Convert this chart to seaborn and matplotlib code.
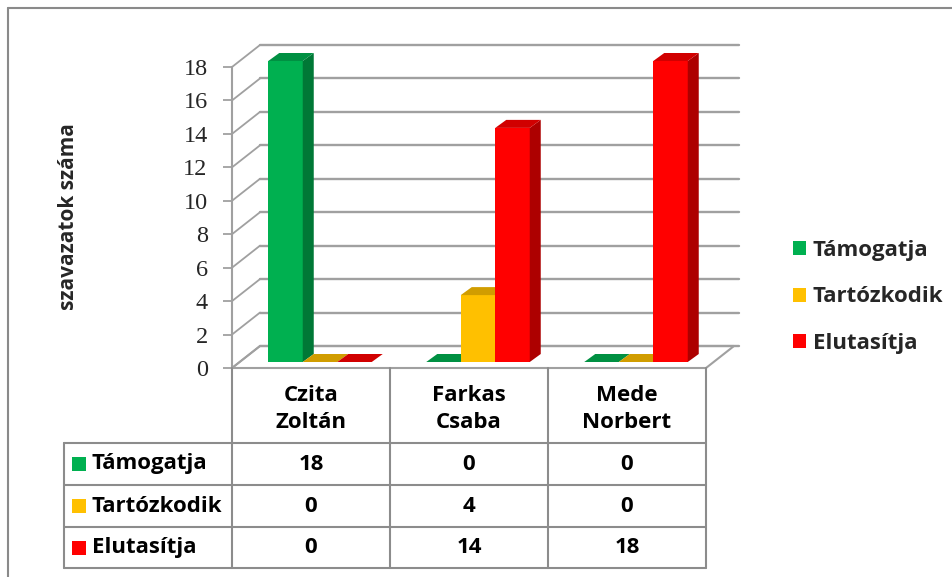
import numpy as np
import pandas as pd
import matplotlib
matplotlib.use("Agg")
import matplotlib.pyplot as plt
import seaborn as sns
from matplotlib import font_manager as fm
from matplotlib.patches import Polygon, Rectangle
from matplotlib.lines import Line2D
from matplotlib.transforms import IdentityTransform, ScaledTranslation
import matplotlib.colors as mcolors

# ---------------- data ----------------
candidates = ["Czita\nZoltán", "Farkas\nCsaba", "Mede\nNorbert"]
series_names = ["Támogatja", "Tartózkodik", "Elutasítja"]
tamogatja = [18, 0, 0]
tartozkodik = [0, 4, 0]
elutasitja = [0, 14, 18]
series_colors = ["#00B050", "#FFC000", "#FF0000"]
yticks = [0, 2, 4, 6, 8, 10, 12, 14, 16, 18]
ylabel_text = "szavazatok száma"

series_values = [tamogatja, tartozkodik, elutasitja]
df = pd.DataFrame({
    "candidate": [c for _ in series_names for c in candidates],
    "vote": [s for s in series_names for _ in candidates],
    "votes": [v for vals in series_values for v in vals],
})

# ---------------- style ----------------
W, H, DPI = 953, 577, 100
sns.set_theme(style="white")
avail = {f.name for f in fm.fontManager.ttflist}
SANS = "Open Sans" if "Open Sans" in avail else "DejaVu Sans"
SERIF = "Liberation Serif" if "Liberation Serif" in avail else "DejaVu Serif"
plt.rcParams["font.family"] = [SANS, "DejaVu Sans"]

GRID = "#A0A0A0"
TABLE = "#8C8C8C"

fig = plt.figure(figsize=(W / DPI, H / DPI), dpi=DPI)
fig.patch.set_facecolor("white")


def fx(px):
    return px / W


def fy(py):
    return 1 - py / H


AX_L, AX_R, AX_TOP, AX_BOT = 232, 706, 67, 368
ax = fig.add_axes([fx(AX_L), fy(AX_BOT), (AX_R - AX_L) / W, (AX_BOT - AX_TOP) / H])
ax.patch.set_alpha(0)

sns.barplot(data=df, x="candidate", y="votes", hue="vote", order=candidates,
            hue_order=series_names, palette=series_colors, width=0.655,
            saturation=1, linewidth=0, edgecolor="none", ax=ax)
ax.set_xlim(-0.5, 2.5)
ax.set_ylim(0, 18)

# axis styling
for s in ["top", "right", "bottom"]:
    ax.spines[s].set_visible(False)
ax.spines["left"].set_color(GRID)
ax.spines["left"].set_linewidth(1.5)
ax.spines["left"].set_zorder(2)
ax.set_xticks([])
ax.set_xlabel("")
ax.set_yticks(yticks)
ax.set_yticklabels([str(t) for t in yticks], fontfamily=SERIF, fontsize=17.5)
ax.tick_params(axis="y", left=True, length=6.5, width=1.3, color=GRID, pad=11)
ax.set_ylabel(ylabel_text, fontsize=15, fontweight="bold", family=SANS)
ax.yaxis.set_label_coords((68 - AX_L) / (AX_R - AX_L), (AX_BOT - 217) / (AX_BOT - AX_TOP))
ax.yaxis.label.set_verticalalignment("center")

itr = IdentityTransform()


def add(artist):
    artist.set_clip_on(False)
    ax.add_artist(artist)
    return artist


# ---------------- 3D walls ----------------
WALL_DX, WALL_DY = 28, 22
x_left = ax.transData.transform((-0.5, 0))[0]
x_right = ax.transData.transform((2.5, 0))[0]
y0 = ax.transData.transform((0, 0))[1]

add(Polygon([(x_left, y0), (x_right, y0), (x_right + WALL_DX, y0 + WALL_DY),
             (x_left + WALL_DX, y0 + WALL_DY)], closed=True, transform=itr,
            facecolor="white", edgecolor=GRID, linewidth=1.5, zorder=1))
for t in yticks:
    yv = ax.transData.transform((0, t))[1]
    add(Line2D([x_left + WALL_DX, x_right + WALL_DX + 5], [yv + WALL_DY, yv + WALL_DY],
               transform=itr, color=GRID, linewidth=1.7, zorder=1.5))
    add(Line2D([x_left, x_left + WALL_DX], [yv, yv + WALL_DY],
               transform=itr, color=GRID, linewidth=1.3, zorder=1.5))


# ---------------- 3D bars ----------------
def shade(c, f):
    r, g, b = mcolors.to_rgb(c)
    return (r * f, g * f, b * f)


FRONT_DX, FRONT_DY = 9, 6
BAR_DX, BAR_DY = 11, 8
bars = []
for cont in ax.containers:
    for b in cont:
        bars.append(b)
bars.sort(key=lambda b: b.get_x())
offset = ScaledTranslation(FRONT_DX / DPI, FRONT_DY / DPI, fig.dpi_scale_trans)
for i, b in enumerate(bars):
    z = 5 + 3 * i
    b.set_transform(ax.transData + offset)
    b.set_clip_on(False)
    b.set_zorder(z)
    x0, yb = ax.transData.transform((b.get_x(), 0))
    x1, yt = ax.transData.transform((b.get_x() + b.get_width(), b.get_height()))
    x0 += FRONT_DX; x1 += FRONT_DX; yb += FRONT_DY; yt += FRONT_DY
    fc = b.get_facecolor()
    add(Polygon([(x1, yb), (x1, yt), (x1 + BAR_DX, yt + BAR_DY), (x1 + BAR_DX, yb + BAR_DY)],
                closed=True, transform=itr, facecolor=shade(fc, 0.68), edgecolor="none", zorder=z + 1))
    add(Polygon([(x0, yt), (x1, yt), (x1 + BAR_DX, yt + BAR_DY), (x0 + BAR_DX, yt + BAR_DY)],
                closed=True, transform=itr, facecolor=shade(fc, 0.82), edgecolor="none", zorder=z + 1))

# ---------------- legend ----------------
handles, labels = ax.get_legend_handles_labels()
if ax.get_legend() is not None:
    ax.get_legend().remove()
fig.legend(handles, labels, loc="center left", bbox_to_anchor=(fx(793), fy(297)),
           frameon=False, prop=dict(family=SANS, weight="bold", size=16),
           handlelength=0.6, handleheight=0.6, handletextpad=0.3, labelspacing=1.15,
           borderpad=0, borderaxespad=0)

# ---------------- data table ----------------
col_edges = [ax.transData.transform((i - 0.5, 0))[0] for i in range(len(candidates) + 1)]
col_centers = [ax.transData.transform((i, 0))[0] for i in range(len(candidates))]
TBL_L = 64
HDR_TOP, HDR_BOT = 368, 443
row_edges = [443, 485, 527, 568]


def hline(x0, x1, py):
    fig.add_artist(Line2D([x0, x1], [H - py, H - py], transform=itr, color=TABLE, linewidth=1.5, zorder=3))


def vline(px, py0, py1):
    fig.add_artist(Line2D([px, px], [H - py0, H - py1], transform=itr, color=TABLE, linewidth=1.5, zorder=3))


for e in col_edges:
    vline(e, HDR_TOP, row_edges[-1])
vline(TBL_L, row_edges[0], row_edges[-1])
for r in row_edges:
    hline(TBL_L, col_edges[-1], r)

txt_kw = dict(family=SANS, weight="bold", fontsize=16, color="black", transform=itr)
for c, xc in zip(candidates, col_centers):
    fig.text(xc, H - 409, c, ha="center", va="center",
             linespacing=1.4, **txt_kw)

for r, (name, vals, col) in enumerate(zip(series_names, series_values, series_colors)):
    yc = (row_edges[r] + row_edges[r + 1]) / 2
    fig.add_artist(Rectangle((72, H - yc - 7), 14, 14, transform=itr, facecolor=col,
                             edgecolor="none", zorder=3))
    fig.text(92, H - yc, name, ha="left", va="center", **txt_kw)
    for v, xc in zip(vals, col_centers):
        fig.text(xc, H - yc, str(v), ha="center", va="center", **txt_kw)

# ---------------- outer border ----------------
fig.add_artist(Line2D([8, W], [H - 8, H - 8], transform=itr, color="#8A8A8A", linewidth=1.5))
fig.add_artist(Line2D([8, 8], [H - 8, 0], transform=itr, color="#8A8A8A", linewidth=1.5))

fig.savefig("out.png", dpi=DPI, facecolor="white")
